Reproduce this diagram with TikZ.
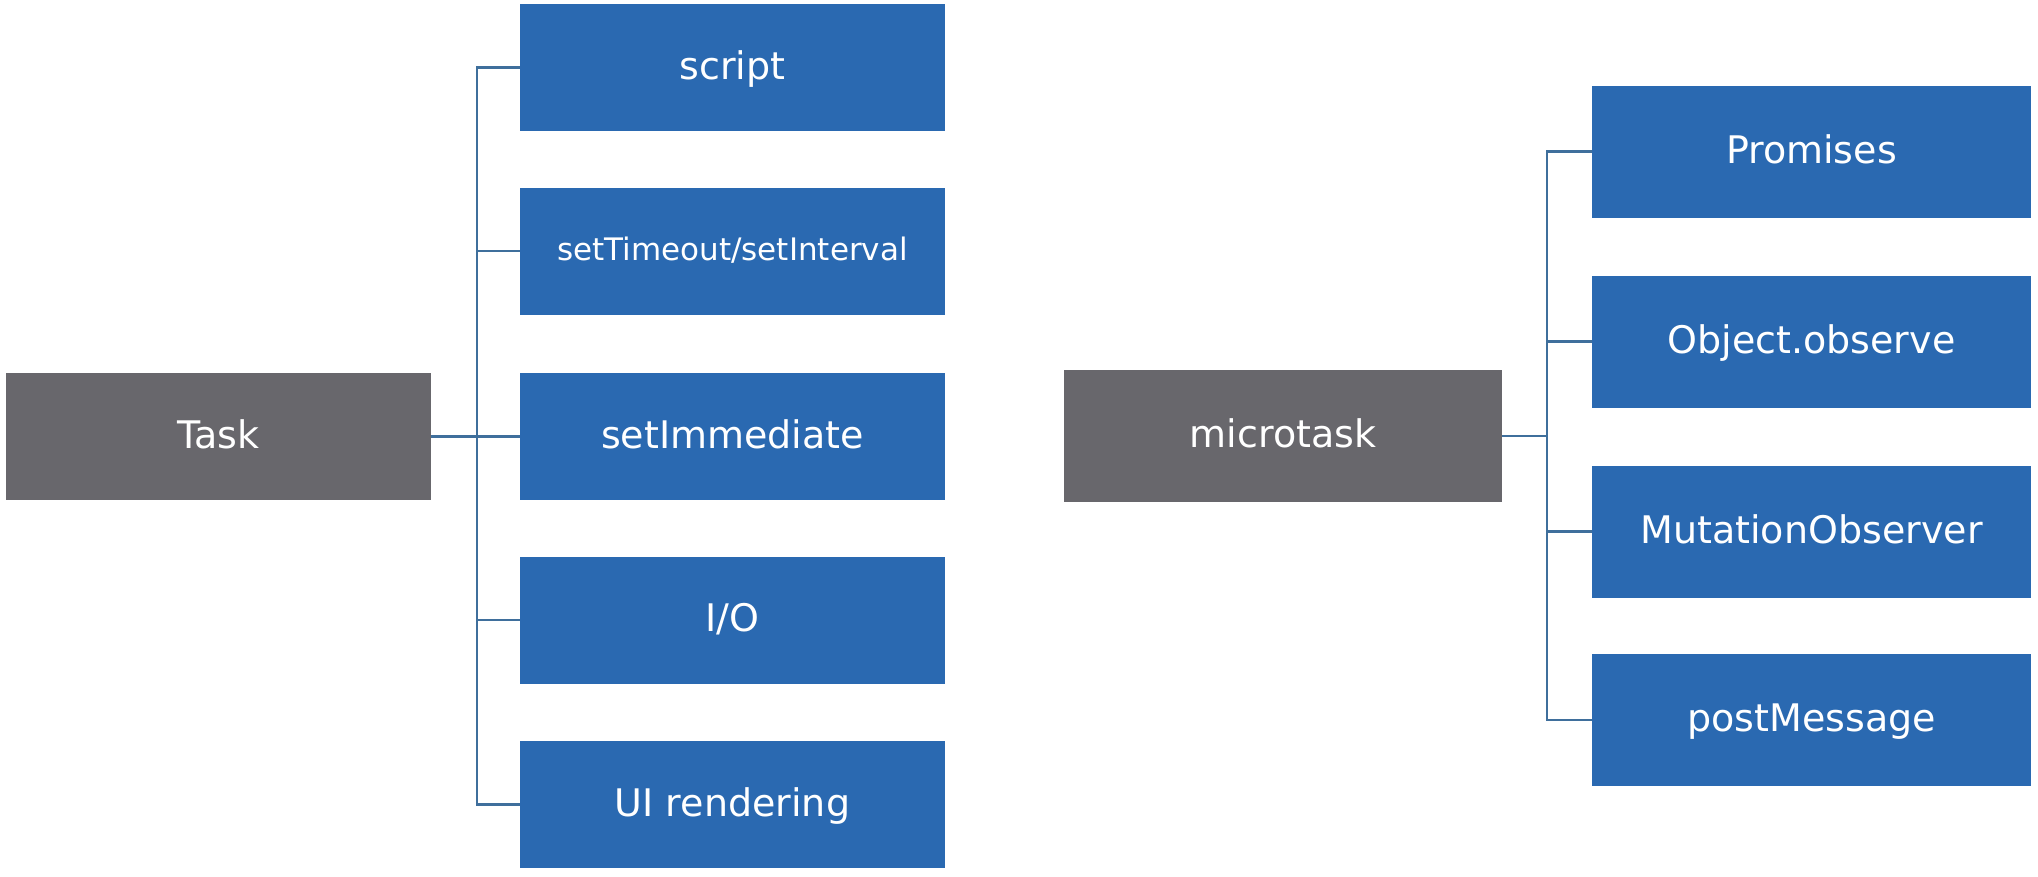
\documentclass[tikz,border=0pt]{standalone}
\usepackage{fontspec}
\setmainfont{DejaVu Sans}
\definecolor{boxblue}{HTML}{2A69B1}
\definecolor{boxgray}{HTML}{68676C}
\definecolor{linkblue}{HTML}{3F6F9C}
\begin{document}
\begin{tikzpicture}[x=1pt,y=-1pt,
  bluebox/.style={fill=boxblue,text=white,inner sep=0pt,minimum width=425pt,minimum height=127pt,text height=30pt,text depth=6.4pt,font=\fontsize{38}{40}\selectfont},
  rbluebox/.style={bluebox,minimum width=439pt,minimum height=132pt},
  graybox/.style={fill=boxgray,text=white,inner sep=0pt,minimum width=425pt,minimum height=127pt,text height=30pt,text depth=6.4pt,font=\fontsize{38}{40}\selectfont},
  link/.style={draw=linkblue,line width=2.5pt}]
\useasboundingbox (0,0) rectangle (2038,876);
\fill[white] (0,0) rectangle (2038,876);
% left group
\node[graybox] (task) at (218.5,436.5) {Task};
\node[bluebox] (script) at (732.5,67.5) {script};
\node[bluebox,font=\fontsize{31}{33}\selectfont,text height=24.5pt,text depth=5.2pt] (timeout) at (732.5,251) {setTimeout/setInterval};
\node[bluebox] (immediate) at (732.5,436.5) {setImmediate};
\node[bluebox] (io) at (732.5,620) {I/O};
\node[bluebox] (ui) at (732.5,804.5) {UI rendering};
\coordinate (lt) at (477,67.5);
\coordinate (lb) at (477,804.5);
\draw[link] (task.east) -- (immediate.west);
\draw[link] (script.west) -- (lt) -- (lb) -- (ui.west);
\draw[link] (timeout.west) -- (timeout.west -| lt);
\draw[link] (io.west) -- (io.west -| lt);
% right group
\node[graybox,minimum width=438pt,minimum height=132pt] (micro) at (1283,436) {microtask};
\node[rbluebox] (promises) at (1811.5,151.5) {Promises};
\node[rbluebox] (observe) at (1811.5,341.5) {Object.observe};
\node[rbluebox] (mutation) at (1811.5,531.5) {MutationObserver};
\node[rbluebox] (post) at (1811.5,720) {postMessage};
\coordinate (rt) at (1547,151.5);
\coordinate (rb) at (1547,720);
\draw[link] (micro.east) -- (micro.east -| rt);
\draw[link] (promises.west) -- (rt) -- (rb) -- (post.west);
\draw[link] (observe.west) -- (observe.west -| rt);
\draw[link] (mutation.west) -- (mutation.west -| rt);
\end{tikzpicture}
\end{document}
